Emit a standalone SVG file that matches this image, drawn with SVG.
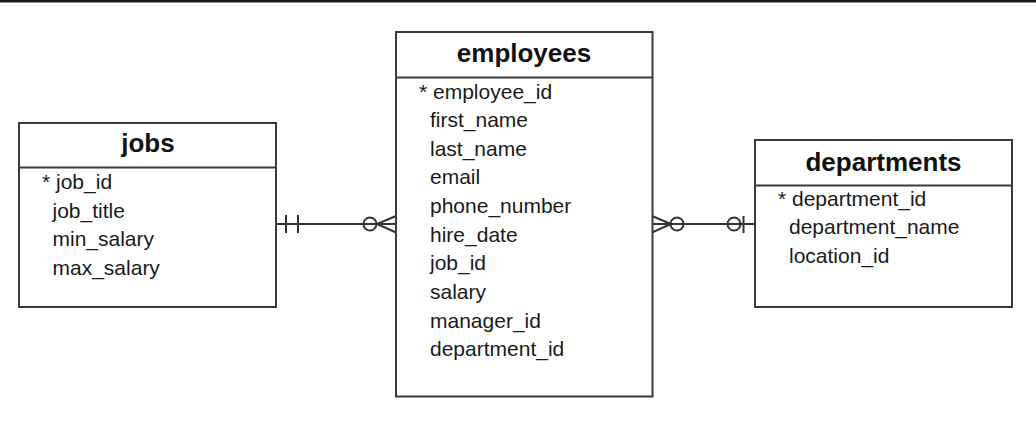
<svg xmlns="http://www.w3.org/2000/svg" width="1036" height="425" viewBox="0 0 1036 425">
<style>
.box{fill:#fff;stroke:#3a3a3a;stroke-width:2}
.sep{stroke:#3a3a3a;stroke-width:2}
.hd{font-family:"Liberation Sans",Arial,sans-serif;font-size:26px;font-weight:bold;fill:#111;text-anchor:middle}
.f{font-family:"Liberation Sans",Arial,sans-serif;font-size:21px;fill:#1a1a1a}
.c{fill:none;stroke:#333;stroke-width:2}
</style>
<rect x="0" y="0" width="1036" height="2.5" fill="#1a1a1a"/>
<g id="connectors">
<g id="jobs-employees">
<line class="c" x1="276" y1="224" x2="396" y2="224"/>
<line class="c" x1="286" y1="215" x2="286" y2="233"/>
<line class="c" x1="298" y1="215" x2="298" y2="233"/>
<circle class="c" cx="370" cy="224" r="6.5" fill="#fff"/>
<polyline class="c" points="396,216 377,224 396,232.5"/>
</g>
<g id="employees-departments">
<line class="c" x1="652" y1="224" x2="755" y2="224"/>
<polyline class="c" points="652,216 671,224 652,232.5"/>
<circle class="c" cx="677" cy="224" r="6.5" fill="#fff"/>
<circle class="c" cx="734" cy="224" r="6.5" fill="#fff"/>
<line class="c" x1="743.5" y1="216" x2="743.5" y2="233"/>
</g>
</g>
<g id="jobs">
<rect class="box" x="19" y="123" width="257" height="184"/>
<line class="sep" x1="19" y1="167.5" x2="276" y2="167.5"/>
<text class="hd" x="148" y="152">jobs</text>
<text class="f" x="42" y="189">* job_id</text>
<text class="f" x="52.5" y="217.5">job_title</text>
<text class="f" x="52.5" y="246">min_salary</text>
<text class="f" x="52.5" y="274.5">max_salary</text>
</g>
<g id="employees">
<rect class="box" x="396" y="32" width="256.5" height="364.5"/>
<line class="sep" x1="396" y1="77.5" x2="652.5" y2="77.5"/>
<text class="hd" x="524" y="61.5">employees</text>
<text class="f" x="419" y="98.5">* employee_id</text>
<text class="f" x="430" y="127">first_name</text>
<text class="f" x="430" y="155.5">last_name</text>
<text class="f" x="430" y="184.2">email</text>
<text class="f" x="430" y="212.8">phone_number</text>
<text class="f" x="430" y="241.5">hire_date</text>
<text class="f" x="430" y="270.2">job_id</text>
<text class="f" x="430" y="299">salary</text>
<text class="f" x="430" y="327.6">manager_id</text>
<text class="f" x="430" y="356.3">department_id</text>
</g>
<g id="departments">
<rect class="box" x="755" y="140" width="257" height="167"/>
<line class="sep" x1="755" y1="185.5" x2="1012" y2="185.5"/>
<text class="hd" x="883.5" y="170.5">departments</text>
<text class="f" x="778" y="205.5">* department_id</text>
<text class="f" x="789" y="234.3">department_name</text>
<text class="f" x="789" y="263">location_id</text>
</g>
</svg>
